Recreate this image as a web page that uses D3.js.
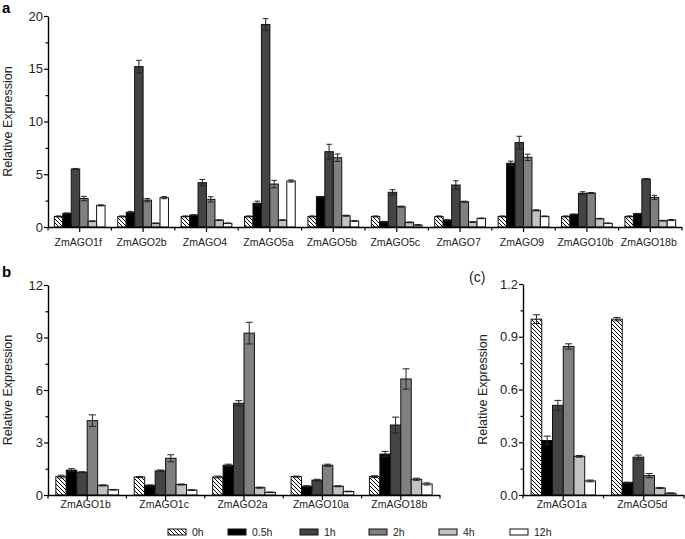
<!DOCTYPE html>
<html><head><meta charset="utf-8">
<script src="https://cdn.jsdelivr.net/npm/d3@7"></script>
<style>
body{margin:0;background:#fff;}
svg{display:block;font-family:"Liberation Sans",Arial,sans-serif;}
</style></head>
<body><svg id="c" width="685" height="539"></svg>
<script>
const series = ["0h","0.5h","1h","2h","4h","12h"];
const fills = ["url(#hatch)","#000000","#444444","#808080","#c2c2c2","#ffffff"];

const catsA = ["ZmAGO1f","ZmAGO2b","ZmAGO4","ZmAGO5a","ZmAGO5b","ZmAGO5c","ZmAGO7","ZmAGO9","ZmAGO10b","ZmAGO18b"];
const valsA = [
 [1.0,1.3,5.5,2.7,0.55,2.05],
 [1.0,1.4,15.2,2.55,0.35,2.78],
 [1.0,1.13,4.2,2.62,0.65,0.35],
 [1.0,2.25,19.2,4.07,0.65,4.36],
 [1.0,2.87,7.14,6.57,1.07,0.57],
 [1.0,0.5,3.29,1.93,0.44,0.19],
 [1.0,0.66,3.98,2.4,0.47,0.82],
 [1.0,6.04,8.0,6.6,1.58,1.01],
 [1.0,1.2,3.19,3.22,0.79,0.35],
 [1.0,1.26,4.55,2.8,0.6,0.66]];
const errsA = [
 [0.05,0.03,0.05,0.2,0.03,0.05],
 [0.05,0.08,0.6,0.15,0.03,0.1],
 [0.05,0.03,0.3,0.25,0.03,0.03],
 [0.05,0.2,0.55,0.35,0.03,0.1],
 [0.05,0.03,0.7,0.35,0.05,0.03],
 [0.05,0.03,0.25,0.05,0.03,0.03],
 [0.05,0.03,0.4,0.05,0.03,0.03],
 [0.05,0.2,0.6,0.3,0.05,0.03],
 [0.05,0.03,0.15,0.05,0.03,0.03],
 [0.05,0.03,0.05,0.2,0.03,0.05]];
const ticksA = [0,5,10,15,20];

const catsB = ["ZmAGO1b","ZmAGO1c","ZmAGO2a","ZmAGO10a","ZmAGO18b"];
const valsB = [
 [1.05,1.42,1.3,4.25,0.55,0.3],
 [1.03,0.55,1.38,2.1,0.6,0.28],
 [1.03,1.7,5.24,9.25,0.42,0.15],
 [1.05,0.5,0.85,1.7,0.5,0.2],
 [1.05,2.34,4.0,6.63,0.9,0.63]];
const errsB = [
 [0.08,0.08,0.03,0.33,0.03,0.02],
 [0.03,0.03,0.05,0.2,0.03,0.02],
 [0.05,0.06,0.15,0.62,0.03,0.02],
 [0.03,0.03,0.05,0.06,0.03,0.02],
 [0.05,0.15,0.45,0.58,0.06,0.06]];
const ticksB = [0,3,6,9,12];

const catsC = ["ZmAGO1a","ZmAGO5d"];
const valsC = [
 [1.0,0.31,0.51,0.845,0.22,0.08],
 [1.0,0.07,0.215,0.11,0.04,0.01]];
const errsC = [
 [0.025,0.025,0.028,0.015,0.005,0.005],
 [0.01,0.003,0.012,0.012,0.003,0.002]];
const ticksC = [0.0,0.3,0.6,0.9,1.2];

const svg = d3.select("#c");
const defs = svg.append("defs");
const pat = defs.append("pattern").attr("id","hatch").attr("patternUnits","userSpaceOnUse")
  .attr("width",4).attr("height",4);
pat.append("rect").attr("width",4).attr("height",4).attr("fill","#fff");
pat.append("path").attr("d","M-1,-1 L5,5 M-1,3 L1,5 M3,-1 L5,1").attr("stroke","#000").attr("stroke-width",1);

function panel(o){
  const g = svg.append("g");
  const x = d3.scaleBand().domain(o.cats).range([o.x0,o.x1]).padding(0);
  const bw = x.bandwidth();
  const xs = d3.scaleBand().domain(series).range([bw*0.1,bw*0.9]).padding(0);
  const y = d3.scaleLinear().domain([0,o.max]).range([o.y0,o.yTop]);
  const step = o.ticks[1]-o.ticks[0];
  const minor = o.ticks.slice(0,-1).map(t=>t+step/2);

  o.cats.forEach((c,ci)=>{
    series.forEach((s,si)=>{
      const v = o.vals[ci][si], e = o.errs[ci][si];
      const bx = x(c)+xs(s);
      g.append("rect").attr("x",bx).attr("y",y(v)).attr("width",xs.bandwidth()).attr("height",y(0)-y(v))
        .attr("fill",fills[si]).attr("stroke","#111").attr("stroke-width",1);
      const cx = bx+xs.bandwidth()/2, cw = xs.bandwidth()*0.33;
      const eg = g.append("g").attr("stroke","#222").attr("stroke-width",1).attr("fill","none");
      eg.append("line").attr("x1",cx).attr("x2",cx).attr("y1",y(v+e)).attr("y2",y(Math.max(0,v-e)));
      eg.append("line").attr("x1",cx-cw).attr("x2",cx+cw).attr("y1",y(v+e)).attr("y2",y(v+e));
      eg.append("line").attr("x1",cx-cw).attr("x2",cx+cw).attr("y1",y(Math.max(0,v-e))).attr("y2",y(Math.max(0,v-e)));
    });
  });

  const ya = g.append("g").attr("transform",`translate(${o.x0},0)`)
    .call(d3.axisLeft(y).tickValues(o.ticks).tickSize(4).tickSizeOuter(0).tickFormat(o.fmt));
  ya.select(".domain").attr("stroke-width",1.4);
  ya.selectAll(".tick line").attr("stroke-width",1.2);
  ya.selectAll(".tick text").attr("font-size",13).attr("fill","#222").attr("font-family","Liberation Sans, Arial, sans-serif").attr("x",-5);
  const ym = g.append("g").attr("transform",`translate(${o.x0},0)`)
    .call(d3.axisLeft(y).tickValues(minor).tickSize(2.5).tickFormat(""));
  ym.select(".domain").remove();
  ym.selectAll(".tick line").attr("stroke-width",1.2);

  const xa = g.append("g").attr("transform",`translate(0,${o.y0})`)
    .call(d3.axisBottom(x).tickSize(5).tickSizeOuter(0));
  xa.select(".domain").attr("stroke-width",1.4).attr("d",`M${o.x0},0.5H${o.x1}`);
  xa.selectAll(".tick line").attr("stroke-width",1.2);
  xa.selectAll(".tick text").attr("font-size",o.xfs).attr("fill","#222").attr("font-family","Liberation Sans, Arial, sans-serif").attr("y",o.xly).attr("dy","0").attr("dx",-1.5);
  const bounds = d3.range(o.cats.length+1).map(i=>o.x0+i*bw);
  g.append("g").selectAll("line").data(bounds).join("line")
    .attr("x1",d=>d).attr("x2",d=>d).attr("y1",o.y0).attr("y2",o.y0+3.5)
    .attr("stroke","#000").attr("stroke-width",1.2);

  g.append("text").attr("transform",`translate(${o.tx},${(o.y0+o.yTop)/2}) rotate(-90)`)
    .attr("text-anchor","middle").attr("font-size",12.5).attr("fill","#222").text("Relative Expression");
}

panel({cats:catsA,vals:valsA,errs:errsA,ticks:ticksA,max:20,x0:48,x1:682,y0:227,yTop:16,tx:12,xfs:10.5,xly:19,fmt:d3.format("d")});
panel({cats:catsB,vals:valsB,errs:errsB,ticks:ticksB,max:12,x0:48,x1:440,y0:495,yTop:285,tx:12,xfs:10.5,xly:13,fmt:d3.format("d")});
panel({cats:catsC,vals:valsC,errs:errsC,ticks:ticksC,max:1.2,x0:523,x1:684,y0:495,yTop:284,tx:487,xfs:10.5,xly:13,fmt:d3.format(".1f")});

svg.append("text").attr("x",2).attr("y",13).attr("font-size",15).attr("font-weight","bold").text("a");
svg.append("text").attr("x",2).attr("y",277).attr("font-size",15).attr("font-weight","bold").text("b");
svg.append("text").attr("x",469).attr("y",282).attr("font-size",14).attr("fill","#222").text("(c)");

const legX = [168,228,300,369,439,510];
const lg = svg.append("g");
series.forEach((s,i)=>{
  lg.append("rect").attr("x",legX[i]).attr("y",529).attr("width",18).attr("height",6)
    .attr("fill",fills[i]).attr("stroke","#111").attr("stroke-width",1);
  lg.append("text").attr("x",legX[i]+24).attr("y",536).attr("font-size",10.5).attr("fill","#222").text(s);
});
</script></body></html>
